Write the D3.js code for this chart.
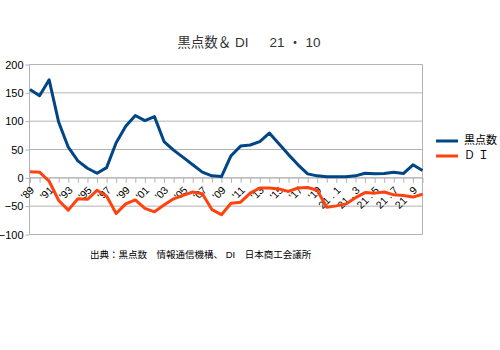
<!DOCTYPE html>
<html><head><meta charset="utf-8">
<script src="https://cdn.jsdelivr.net/npm/d3@7"></script>
<style>body{margin:0;background:#fff}svg{display:block}</style>
</head><body><svg id="c" width="500" height="350"></svg>
<script>
const categories = ["'89","'90","'91","'92","'93","'94","'95","'96","'97","'98","'99","'00","'01","'02","'03","'04","'05","'06","'07","'08","'09","'10","'11","'12","'13","'14","'15","'16","'17","'18","'19","'20",
"21 . 1","21 . 2","21 . 3","21 . 4","21 . 5","21 . 6","21 . 7","21 . 8","21 . 9","21 . 10"];
const tickLabels = ["'89","'91","'93","'95","'97","'99","'01","'03","'05","'07","'09","'11","'13","'15","'17","'19","21 . 1","21 . 3","21 . 5","21 . 7","21 . 9"];
const sunspots = [156,145,173,98,54,30,17,8,18,62,91,110,101,108,64,49,36,23,10,3.5,2.3,39,56,58,64,79,60,41,23,7,3.5,2,2,2,3.5,8,7,7.5,10,7.5,23,13];
const di = [10.6,10,-6,-40,-57,-37,-38,-22,-32,-63,-46,-39,-54,-60,-48,-37,-31,-25,-28,-56,-65,-45,-43,-27,-18,-18,-19.5,-24,-18,-17,-22,-52,-49.5,-46,-35,-26,-27,-25,-30,-31,-34,-29];
const yTicks = [200,150,100,50,0,-50,-100];
const seriesNames = ["黒点数","Ｄ Ｉ"];
const colors = ["#004586","#ff420e"];

const svg = d3.select("#c");
const L = 29.5, R = 422.5, T = 64.5, B = 234.5;
const x = d3.scalePoint().domain(categories).range([L+0.5, R]);
const y = d3.scaleLinear().domain([-100,200]).range([B, T]);
const jp = "'Liberation Sans','Noto Sans CJK JP',sans-serif";

// title
svg.append("text").attr("x",249).attr("y",47).attr("text-anchor","middle")
  .attr("font-family",jp).attr("font-size",13.5).attr("fill","#333")
  .attr("xml:space","preserve").text("黒点数＆ DI　  21 ・ 10");

// y axis + gridlines
const yAxis = d3.axisLeft(y).tickValues(yTicks).tickSize(4).tickPadding(2);
const gy = svg.append("g").attr("transform",`translate(${L},0)`).call(yAxis);
gy.select(".domain").remove();
gy.selectAll(".tick line").attr("stroke","#b3b3b3");
gy.selectAll(".tick text").attr("font-family","'Liberation Sans',sans-serif").attr("font-size",11).attr("fill","#000");
svg.append("g").selectAll("line").data(yTicks).join("line")
  .attr("x1",L).attr("x2",R).attr("y1",d=>y(d)).attr("y2",d=>y(d))
  .attr("stroke","#b3b3b3").attr("stroke-width",1);
svg.append("line").attr("x1",L).attr("x2",L).attr("y1",T).attr("y2",B).attr("stroke","#b3b3b3");
svg.append("line").attr("x1",R).attr("x2",R).attr("y1",T).attr("y2",B).attr("stroke","#b3b3b3");

// x axis at 0
const xAxis = d3.axisBottom(x).tickSize(5).tickFormat("");
const gx = svg.append("g").attr("transform",`translate(0,${y(0)})`).call(xAxis);
gx.select(".domain").attr("stroke","#b3b3b3").attr("d",`M${L},0H${R}`);
gx.selectAll(".tick line").attr("stroke","#b3b3b3");
svg.append("g").selectAll("text").data(tickLabels).join("text")
  .attr("transform",d=>`translate(${x(d)+3},${y(0)+11}) rotate(-45)`)
  .attr("text-anchor","end").attr("dominant-baseline","middle")
  .attr("font-family",jp).attr("font-size",10.5).attr("fill","#000")
  .attr("xml:space","preserve")
  .text(d=>d);

// lines
const line = d3.line().x((d,i)=>x(categories[i])).y(d=>y(d));
[sunspots, di].forEach((s,k)=>{
  svg.append("path").datum(s).attr("d",line).attr("fill","none")
    .attr("stroke",colors[k]).attr("stroke-width",3).attr("stroke-linejoin","round");
});

// legend
seriesNames.forEach((n,k)=>{
  const ly = 141 + k*15;
  svg.append("line").attr("x1",436).attr("x2",458).attr("y1",ly).attr("y2",ly)
    .attr("stroke",colors[k]).attr("stroke-width",3);
  svg.append("text").attr("x",464).attr("y",ly).attr("dominant-baseline","middle")
    .attr("font-family",jp).attr("font-size",11).attr("fill","#000").text(n);
});

// source
svg.append("text").attr("x",90).attr("y",258).attr("font-family",jp).attr("font-size",9.5).attr("fill","#000")
  .attr("xml:space","preserve").text("出典：黒点数　情報通信機構、 DI　日本商工会議所");
</script></body></html>
